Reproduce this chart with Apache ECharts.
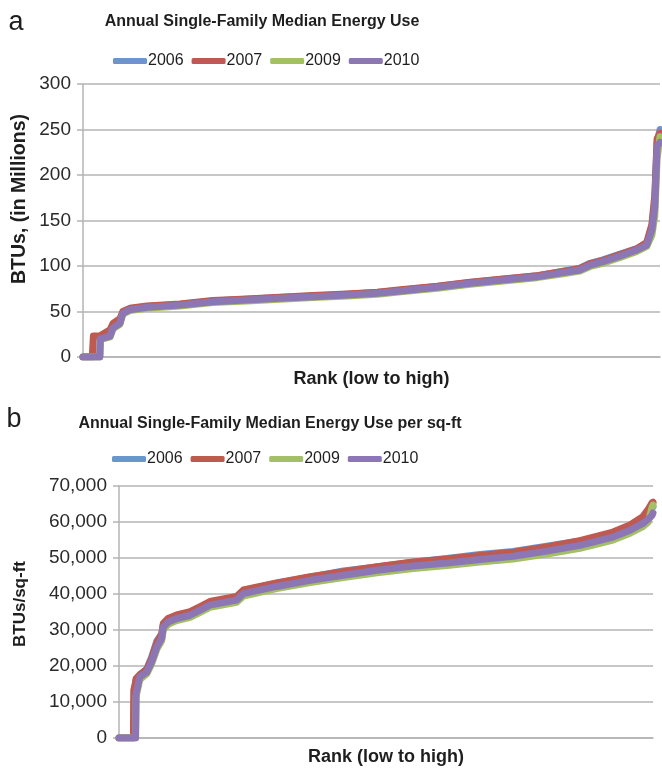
<!DOCTYPE html>
<html>
<head>
<meta charset="utf-8">
<script src="https://cdn.jsdelivr.net/npm/echarts@6/dist/echarts.min.js"></script>
<style>
  html, body { margin: 0; padding: 0; background: #ffffff; }
  #chart { width: 662px; height: 770px; }
</style>
</head>
<body>
<div id="chart"></div>
<script>
// Survey years shown in both panels
const years = ['2006', '2007', '2009', '2010'];
const yearColors = ['#6A95CF', '#BE5A50', '#A3C064', '#8C76B4'];

// Panel a: annual median energy use (million BTUs), sorted by rank (percent of homes)
const rankA = [0, 1.6, 1.8, 2.9, 3.0, 4.7, 5.2, 6.4, 6.9, 8.1, 11.1, 16.8, 22.5, 28.4, 34.1, 39.9, 45.8,
  51.0, 55.5, 61.4, 67.1, 72.8, 78.7, 83.2, 86.1, 87.9, 90.1, 93.1, 96.0, 97.7, 98.6, 99.1, 99.5, 100];
const useA2006 = [0, 0, 0, 0, 21, 24, 33, 38, 49, 53, 55.4, 57.8, 61.6, 63.4, 65.3, 67.1, 68.9,
  70.8, 73.7, 77.4, 81.8, 85.4, 89.2, 94.2, 97.5, 103, 106.8, 113, 119.2, 125, 143, 172, 236, 250];
const useA2007 = [0, 0, 23, 23, 24, 30, 37, 42, 50, 53.5, 56, 58.3, 62, 63.8, 65.7, 67.5, 69.3,
  71.2, 74.1, 77.8, 82.2, 85.8, 89.4, 94, 97, 102.5, 106, 112.5, 119, 126, 146, 178, 240, 246];
const useA2009 = [0, 0, 0, 0, 19, 22, 31, 36, 47, 51, 53.6, 56, 59.8, 61.6, 63.5, 65.3, 67.1,
  69, 71.9, 75.6, 80, 83.6, 87.2, 91.5, 94.4, 99.5, 103, 109.5, 116, 121.5, 134, 155, 218, 242];
const useA2010 = [0, 0, 0, 0, 20, 23, 32, 37, 48, 52, 54.6, 57, 60.8, 62.6, 64.5, 66.3, 68.1,
  70, 72.9, 76.6, 81, 84.6, 88.2, 92.7, 95.6, 101, 104.7, 111, 117.6, 123, 139.6, 165, 231, 236];

// Panel b: annual median energy use per square foot (BTUs/sq-ft)
const rankB = [0, 2.7, 2.8, 3.1, 3.2, 3.9, 5.2, 6.1, 7.1, 8.0, 8.3, 9.2, 10.8, 13.3, 15.2, 17.0, 22.0,
  23.3, 29.5, 35.8, 42.0, 48.3, 55.1, 61.4, 67.6, 73.8, 80.1, 86.3, 92.5, 95.7, 98.1, 99.1, 99.8, 100];
const sqftB2006 = [0, 0, 13000, 15000, 16000, 17400, 19200, 22400, 27000, 28800, 31500, 33000, 34000, 34900, 36300, 37700, 39100,
  40900, 43000, 44700, 46400, 47500, 48800, 49900, 51000, 51800, 53300, 54700, 56900, 58700, 60900, 62700, 63900, 64200];
const sqftB2007 = [0, 0, 13500, 15500, 16500, 17600, 19000, 22000, 26500, 29000, 31800, 33200, 34200, 35100, 36500, 37900, 39300,
  41100, 43100, 44800, 46200, 47600, 48900, 49700, 50700, 51600, 53100, 54800, 57200, 59200, 61500, 63500, 65300, 65500];
const sqftB2009 = [0, 0, 0, 0, 11500, 16200, 17800, 20500, 24700, 27000, 30000, 31600, 32600, 33500, 34900, 36300, 37700,
  39400, 41500, 43200, 44600, 45900, 47100, 47900, 48900, 49700, 51100, 52700, 55000, 56900, 58700, 60000, 64000, 64700];
const sqftB2010 = [0, 0, 0, 0, 12300, 17000, 18300, 21100, 25300, 27700, 30800, 32200, 33200, 34100, 35500, 36900, 38300,
  40100, 42100, 43800, 45200, 46600, 47800, 48600, 49600, 50500, 51900, 53500, 55800, 57700, 59600, 60800, 61800, 62500];

const seriesA = [useA2006, useA2007, useA2009, useA2010];
const seriesB = [sqftB2006, sqftB2007, sqftB2009, sqftB2010];

const FONT = "'Liberation Sans', Arial, sans-serif";
const GRID_GRAY = '#b4b4b4';
const TEXT = '#1e1e1e';

function withCommas(v) {
  return String(v).replace(/\B(?=(\d{3})+(?!\d))/g, ',');
}

function lineSeries(values, ranks, idx, gridIdx) {
  return {
    type: 'line',
    name: years[idx],
    xAxisIndex: gridIdx,
    yAxisIndex: gridIdx,
    data: ranks.map((r, i) => [r, values[i]]),
    symbol: 'none',
    color: yearColors[idx],
    lineStyle: { width: 7, color: yearColors[idx], join: 'round', cap: 'round' },
    itemStyle: { color: yearColors[idx] },
    emphasis: { disabled: true }
  };
}

function xAxisCfg(gridIdx, gap) {
  return {
    type: 'value', gridIndex: gridIdx, min: 0, max: 100,
    name: 'Rank (low to high)', nameLocation: 'middle', nameGap: gap,
    nameTextStyle: { fontFamily: FONT, fontSize: 18, fontWeight: 'bold', color: TEXT },
    axisLine: { show: true, lineStyle: { color: GRID_GRAY, width: 1.5 } },
    axisTick: { show: false }, axisLabel: { show: false }, splitLine: { show: false }
  };
}

function yAxisCfg(gridIdx, max, interval, fmt) {
  return {
    type: 'value', gridIndex: gridIdx, min: 0, max: max, interval: interval,
    axisLine: { show: true, lineStyle: { color: GRID_GRAY, width: 1.5 } },
    axisTick: { show: true, length: 6, lineStyle: { color: GRID_GRAY, width: 1.5 } },
    axisLabel: { fontFamily: FONT, fontSize: 19, color: '#2a2a2a', margin: 12, formatter: fmt },
    splitLine: { show: true, lineStyle: { color: GRID_GRAY, width: 1.5 } }
  };
}

function legendCfg(left, top) {
  return {
    data: years, left: left, top: top, orient: 'horizontal',
    icon: 'roundRect', itemWidth: 34, itemHeight: 6, itemGap: 8,
    textStyle: { fontFamily: FONT, fontSize: 16, color: TEXT, padding: [0, 0, 0, -4] },
    selectedMode: false
  };
}

function label(text, x, y, size, weight, rot) {
  return {
    type: 'text', x: x, y: y, rotation: rot || 0, silent: true,
    style: {
      text: text, fontFamily: FONT, fontSize: size, fontWeight: weight, fill: TEXT,
      align: 'center', verticalAlign: 'middle'
    }
  };
}

const chart = echarts.init(document.getElementById('chart'), null, { renderer: 'canvas' });

const option = {
  animation: false,
  backgroundColor: '#ffffff',
  grid: [
    { left: 83, top: 84, width: 577, height: 273 },
    { left: 119, top: 486, width: 534, height: 252 }
  ],
  legend: [legendCfg(108, 48), legendCfg(107, 446)],
  xAxis: [xAxisCfg(0, 13), xAxisCfg(1, 10)],
  yAxis: [
    yAxisCfg(0, 300, 50, v => String(v)),
    yAxisCfg(1, 70000, 10000, v => withCommas(v))
  ],
  series: [
    ...seriesA.map((vals, i) => lineSeries(vals, rankA, i, 0)),
    ...seriesB.map((vals, i) => lineSeries(vals, rankB, i, 1))
  ],
  graphic: [
    label('a', 16, 23, 27, 'normal'),
    label('Annual Single-Family Median Energy Use', 262, 22, 16, 'bold'),
    label('BTUs, (in Millions)', 20, 199, 19.5, 'bold', Math.PI / 2),
    label('b', 14, 420, 27, 'normal'),
    label('Annual Single-Family Median Energy Use per sq-ft', 270, 424, 16, 'bold'),
    label('BTUs/sq-ft', 20, 604, 17, 'bold', Math.PI / 2)
  ]
};

chart.setOption(option);
</script>
</body>
</html>
